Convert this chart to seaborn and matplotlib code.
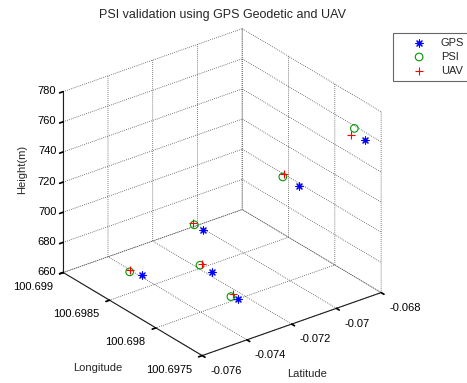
import matplotlib
matplotlib.use('Agg')
import matplotlib.pyplot as plt
import seaborn as sns

sns.set_theme(style='white')
plt.rcParams['font.family'] = ['Liberation Sans', 'DejaVu Sans']

# survey points: latitude, longitude (deg) and height (m)
gps_lat = [-0.07462, -0.07181, -0.07262, -0.07269, -0.06954, -0.06836]
gps_lon = [100.69848, 100.69850, 100.69821, 100.69791, 100.69801, 100.69759]
gps_h = [670, 685, 672, 665, 720, 760]

psi_lat = [-0.07481, -0.07184, -0.07266, -0.07277, -0.06958, -0.06812]
psi_lon = [100.69857, 100.69859, 100.69833, 100.69797, 100.69818, 100.69776]
psi_h = [670, 685, 672, 665, 720, 760]

uav_lat = [-0.07473, -0.07180, -0.07253, -0.07259, -0.06941, -0.06850]
uav_lon = [100.69859, 100.69861, 100.69834, 100.69799, 100.69821, 100.69770]
uav_h = [670, 685, 672, 665, 720, 760]

lat_ticks = [-0.076, -0.074, -0.072, -0.07, -0.068]
lon_ticks = [100.6975, 100.698, 100.6985, 100.699]
h_ticks = [660, 680, 700, 720, 740, 760, 780]

fig = plt.figure(figsize=(4.67, 3.83), dpi=100)
fig.patch.set_facecolor('white')
ax = fig.add_axes([0.0701, 0.0037, 0.790, 0.9634], projection='3d')
ax.set_proj_type('ortho')
ax.view_init(elev=27.3, azim=-127.5)
ax.set_box_aspect((1, 1.012, 0.9025))

ax.scatter(gps_lat, gps_lon, gps_h, marker=(8, 2, 0), color='blue', s=26,
           linewidths=0.8, depthshade=False, label='GPS')
ax.scatter(psi_lat, psi_lon, psi_h, marker='o', facecolors='none',
           edgecolors=(0, 0.6, 0), s=30, linewidths=0.8, depthshade=False, label='PSI')
ax.scatter(uav_lat, uav_lon, uav_h, marker='+', color='red', s=38,
           linewidths=0.8, depthshade=False, label='UAV')

ax.set_xlim(lat_ticks[0], lat_ticks[-1])
ax.set_ylim(lon_ticks[0], lon_ticks[-1])
ax.set_zlim(h_ticks[0], h_ticks[-1])
ax.set_xticks(lat_ticks)
ax.set_xticklabels([str(t) for t in lat_ticks], ha='left', va='center')
ax.set_yticks(lon_ticks)
ax.set_yticklabels([str(t) for t in lon_ticks], ha='right', va='center')
ax.set_zticks(h_ticks)
ax.set_zticklabels([str(t) for t in h_ticks], ha='right', va='center')
ax.tick_params(labelsize=8, colors='black', pad=0)
ax.zaxis.set_tick_params(pad=-5)

for axis in (ax.xaxis, ax.yaxis, ax.zaxis):
    axis.set_pane_color((1, 1, 1, 0))
    axis.line.set_color('#202020')
    axis.line.set_linewidth(0.8)
    axis._axinfo['grid'].update(color='#333333', linestyle=':', linewidth=0.55)
    axis._axinfo['tick'].update(inward_factor=0.25, outward_factor=0.0)
ax.grid(True)

fig.text(222.5 / 467, 1 - 15 / 383, 'PSI validation using GPS Geodetic and UAV',
         ha='center', va='center', fontsize=9)
fig.text(98 / 467, 1 - 368 / 383, 'Longitude', ha='center', va='center', fontsize=8)
fig.text(307 / 467, 1 - 374 / 383, 'Latitude', ha='center', va='center', fontsize=8)
fig.text(22 / 467, 1 - 169 / 383, 'Height(m)', ha='center', va='center',
         rotation=90, fontsize=8)

leg = fig.legend(loc='upper left', bbox_to_anchor=(393 / 467, 1 - 33 / 383),
                 borderaxespad=0, fontsize=8, frameon=True, fancybox=False,
                 borderpad=0.45, handlelength=3.8, handletextpad=0.05,
                 labelspacing=0.35)
leg.get_frame().set_edgecolor('#404040')
leg.get_frame().set_linewidth(0.8)

fig.savefig('out.png', dpi=100, facecolor='white')
